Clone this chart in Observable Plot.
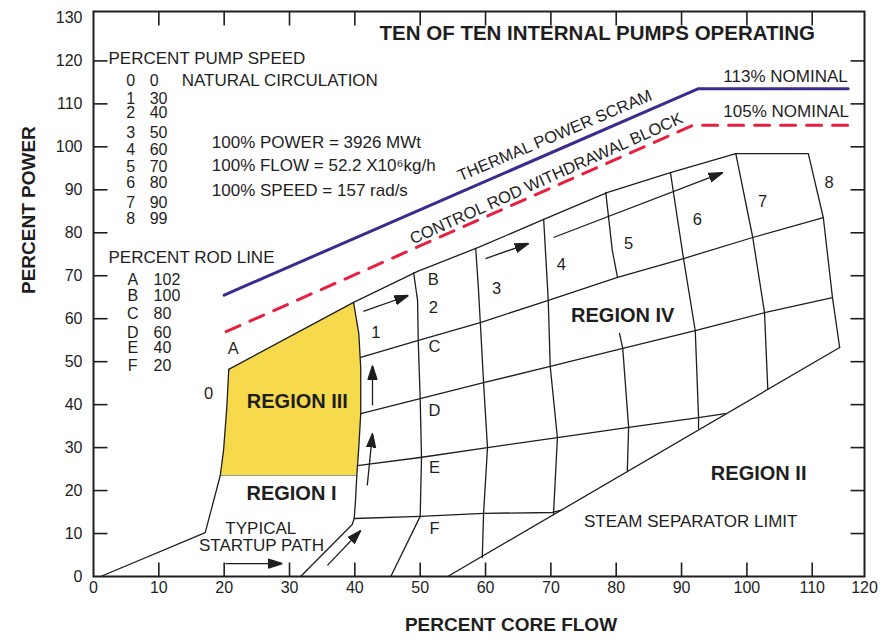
<!DOCTYPE html>
<html><head><meta charset="utf-8">
<script src="https://cdn.jsdelivr.net/npm/d3@7"></script>
<script src="https://cdn.jsdelivr.net/npm/@observablehq/plot@0.6"></script>
<style>html,body{margin:0;padding:0;background:#fff}svg{display:block}</style>
</head><body><div id="chart"></div>
<script>
// ---------- data (percent core flow, percent power) ----------
const xLabelTicks = [0,10,20,30,40,50,60,70,80,90,100,110];
const xMarkTicks = [10,20,30,40,50,60,70,80,90,100,110];
const yLabelTicks = [0,10,20,30,40,50,60,70,80,90,100,110,120,130];
const yMarkTicks = [10,20,30,40,50,60,70,80,90,100,110,120];

const scramLine = [[20,65.5],[92.5,113.5],[115.5,113.5]];
const rodBlockLine = [[20.3,57.0],[91.7,105],[115.5,105]];

const rodLineTop = [[20.7,48.2],[39.8,63.8],[49.6,71.0],[58.9,76.6],[68.9,83.1],[78.7,89.4],[88.3,94.0],[98.3,98.4],[109.4,98.4]];
const rodLineC = [[40.9,51.0],[49.6,54.9],[59.2,59.1],[69.5,64.2],[80.2,69.6],[90.3,74.0],[100.9,78.9],[111.7,83.5]];
const rodLineD = [[40.9,37.9],[50.0,41.4],[59.7,45.1],[69.9,48.9],[81.0,53.1],[92.1,57.2],[102.7,61.4],[113.1,64.9]];
const rodLineE = [[40.4,25.8],[50.0,27.7],[60.3,30.0],[71.0,32.3],[81.9,34.7],[92.6,37.0],[96.7,37.9]];
const rodLineF = [[39.9,13.5],[50.0,14.0],[59.7,14.7],[70.2,14.9],[71.5,15.4]];

const speed0 = [[1.1,0],[17.1,10.2],[19.4,23.5],[19.9,29.3],[20.4,39.3],[20.7,48.2]];
const speed1 = [[31.7,0],[39.6,12.1],[39.9,13.5],[40.1,17.7],[40.3,23.5],[40.6,30.0],[40.9,37.9],[40.9,48.6],[40.6,56.6],[39.8,63.8]];
const speed2 = [[45.5,0],[50.0,14.0],[50.2,27.7],[50.0,41.4],[49.7,54.9],[49.6,64.2],[49.0,70.7]];
const speed3 = [[59.5,4.4],[59.7,14.7],[60.3,30.0],[59.7,45.1],[59.2,59.1],[58.9,67.3],[58.5,76.3]];
const speed4 = [[70.4,14.4],[71.0,32.3],[69.9,48.9],[69.6,64.2],[68.9,83.1]];
const speed5Upper = [[78.4,89.4],[79.4,75.9],[80.2,69.6]];
const speed5Lower = [[80.5,56.6],[81.0,53.1],[81.9,34.7],[81.7,24.7]];
const speed6 = [[88.3,94.0],[90.3,74.0],[92.1,57.2],[92.6,37.0],[92.6,34.4]];
const speed7 = [[98.3,98.4],[100.9,78.9],[102.7,61.4],[103.2,43.6]];
const speed8 = [[109.4,98.4],[111.7,83.5],[113.1,64.9],[114.2,53.3]];
const separatorLimit = [[54.2,0],[114.2,53.3]];

const regionIII = [[20.7,48.2],[39.8,63.8],[40.6,56.6],[40.9,48.6],[40.9,37.9],[40.6,30.0],[40.3,23.5],[19.4,23.5],[19.9,29.3],[20.4,39.3]];
const regionIIIBottom = [[19.4,23.5],[40.3,23.5]];

// arrows: [x1, y1, x2, y2]
const arrows = [[41.3,61.7,48.2,65.4],[60.0,74.0,66.6,77.5],[70.4,78.9,96.3,94.0],[42.7,39.8,42.7,49.1],[41.9,21.2,42.7,33.3],[35.8,2.6,40.9,10.7],[20.2,3.0,28.9,3.0]];

// labels
const speedLabels = [["0",17.6,42.6],["1",43.2,56.8],["2",52.0,62.6],["3",61.7,67.0],["4",71.6,72.6],["5",81.9,77.5],["6",92.4,83.1],["7",102.4,87.3],["8",112.6,91.7]];
const rodLabels = [["A",21.4,53.1],["B",52.0,69.1],["C",52.2,53.5],["D",52.2,38.6],["E",52.2,25.4],["F",52.2,11.2]];
const pumpSpeedCodes = ["0","1","2","3","4","5","6","7","8"];
const pumpSpeedPct = ["0","30","40","50","60","70","80","90","99"];
const pumpRowY = [115.4,111.2,107.8,103.3,99.4,95.4,91.5,87.0,83.3];
const rodCodes = ["A","B","C","D","E","F"];
const rodPct = ["102","100","80","60","40","20"];
const rodRowY = [69.1,65.2,61.2,56.8,53.1,49.1];
const constants = [["100% POWER = 3926 MWt",101.0],["100% FLOW = 52.2 X10\u2076kg/h",95.6],["100% SPEED = 157 rad/s",89.8]];
const regionLabels = [["REGION III",31.2,40.7],["REGION I",30.3,19.3],["REGION IV",81.0,60.7],["REGION II",101.8,24.0]];
const plainLabels = [["STEAM SEPARATOR LIMIT",91.4,12.8],["TYPICAL",25.6,11.2],["STARTUP PATH",25.7,7.2]];

// ---------- helpers ----------
const pts = a => a.map(([x,y]) => ({x,y}));
const FONT = "'Liberation Sans', Arial, Helvetica, sans-serif";
const INK = "#1e1e1e";
const W = 888, H = 640, ML = 93, MR = 24, MT = 11, MB = 64;
const X_DOMAIN = [0, 118], Y_DOMAIN = [0, 131.5];
const TICK = 14; // inward tick length in pixels
const frameW = W - ML - MR, frameH = H - MT - MB;
const tdx = TICK * (X_DOMAIN[1] - X_DOMAIN[0]) / frameW;
const tdy = TICK * (Y_DOMAIN[1] - Y_DOMAIN[0]) / frameH;
// inward tick marks expressed in scale units (drawn by the library's x/y scales)
const tickSegments = [
  ...yMarkTicks.map(v => ({x1: X_DOMAIN[0], x2: X_DOMAIN[0] + tdx, y1: v, y2: v})),
  ...yMarkTicks.map(v => ({x1: X_DOMAIN[1] - tdx, x2: X_DOMAIN[1], y1: v, y2: v})),
  ...xMarkTicks.map(v => ({x1: v, x2: v, y1: Y_DOMAIN[1] - tdy, y2: Y_DOMAIN[1]})),
  ...xMarkTicks.map(v => ({x1: v, x2: v, y1: Y_DOMAIN[0], y2: Y_DOMAIN[0] + tdy}))
];

function filledHead(color, context) {
  const doc = (context && context.document) || document;
  const ns = "http://www.w3.org/2000/svg";
  const m = doc.createElementNS(ns, "marker");
  m.setAttribute("viewBox", "-14 -6 14 12");
  m.setAttribute("markerWidth", 14);
  m.setAttribute("markerHeight", 12);
  m.setAttribute("markerUnits", "userSpaceOnUse");
  m.setAttribute("refX", 0);
  m.setAttribute("refY", 0);
  m.setAttribute("orient", "auto");
  const p = doc.createElementNS(ns, "path");
  p.setAttribute("d", "M-14,-4.5L0,0L-14,4.5Z");
  p.setAttribute("fill", color);
  m.appendChild(p);
  return m;
}

function build(head) {
  const gridLine = (arr) => Plot.line(pts(arr), {x:"x", y:"y", stroke: INK, strokeWidth: 1.3});
  const arrowData = arrows.map(([x1,y1,x2,y2]) => ({x1,y1,x2,y2}));
  return Plot.plot({
    width: W, height: H,
    marginLeft: ML, marginRight: MR, marginTop: MT, marginBottom: MB,
    x: {domain: X_DOMAIN, axis: null},
    y: {domain: Y_DOMAIN, axis: null},
    style: {fontFamily: FONT, background: "#fff", color: INK},
    marks: [
      Plot.line(pts(regionIII), {x:"x", y:"y", fill: "#F7DA4C", stroke: "none"}),
      Plot.line(pts(regionIIIBottom), {x:"x", y:"y", stroke: "#999", strokeWidth: 1}),
      ...[rodLineTop, rodLineC, rodLineD, rodLineE, rodLineF,
          speed0, speed1, speed2, speed3, speed4, speed5Upper, speed5Lower,
          speed6, speed7, speed8, separatorLimit].map(gridLine),
      Plot.line(pts(scramLine), {x:"x", y:"y", stroke: "#3D2A8E", strokeWidth: 3}),
      Plot.line(pts(rodBlockLine), {x:"x", y:"y", stroke: "#E8203F", strokeWidth: 3, strokeDasharray: "15,11"}),
      Plot.link(arrowData, {x1:"x1", y1:"y1", x2:"x2", y2:"y2", stroke: INK, strokeWidth: 1.3, markerEnd: head}),
      // inward ticks on all four sides
      Plot.link(tickSegments, {x1:"x1", y1:"y1", x2:"x2", y2:"y2", stroke: INK, strokeWidth: 1.6}),
      // texts
      Plot.text(["TEN OF TEN INTERNAL PUMPS OPERATING"], {x: () => 77.1, y: () => 126.4, text: d => d, fontSize: 20.5, fontWeight: "bold", fill: INK}),
      Plot.text(["PERCENT PUMP SPEED"], {x: () => 2.3, y: () => 120.5, text: d => d, fontSize: 17, textAnchor: "start", fill: INK}),
      Plot.text(pumpSpeedCodes, {x: () => 5.7, y: (d,i) => pumpRowY[i], text: d => d, fontSize: 16, fill: INK}),
      Plot.text(pumpSpeedPct, {x: () => 8.6, y: (d,i) => pumpRowY[i], text: d => d, fontSize: 16, textAnchor: "start", fill: INK}),
      Plot.text(["NATURAL CIRCULATION"], {x: () => 13.5, y: () => pumpRowY[0], text: d => d, fontSize: 17, textAnchor: "start", fill: INK}),
      Plot.text(["PERCENT ROD LINE"], {x: () => 2.3, y: () => 74.2, text: d => d, fontSize: 17, textAnchor: "start", fill: INK}),
      Plot.text(rodCodes, {x: () => 6.0, y: (d,i) => rodRowY[i], text: d => d, fontSize: 16, fill: INK}),
      Plot.text(rodPct, {x: () => 9.2, y: (d,i) => rodRowY[i], text: d => d, fontSize: 16, textAnchor: "start", fill: INK}),
      Plot.text(constants, {x: () => 18.1, y: d => d[1], text: d => d[0], fontSize: 17, textAnchor: "start", fill: INK}),
      Plot.text(["113% NOMINAL"], {x: () => 96.4, y: () => 116.4, text: d => d, fontSize: 17, textAnchor: "start", fill: INK}),
      Plot.text(["105% NOMINAL"], {x: () => 96.4, y: () => 108.2, text: d => d, fontSize: 17, textAnchor: "start", fill: INK}),
      Plot.text(["THERMAL POWER SCRAM"], {x: () => 70.6, y: () => 102.6, text: d => d, rotate: -23, fontSize: 16.5, fill: INK}),
      Plot.text(["CONTROL ROD WITHDRAWAL BLOCK"], {x: () => 69.3, y: () => 92.6, text: d => d, rotate: -24.3, fontSize: 16.5, fill: INK}),
      Plot.text(speedLabels, {x: d => d[1], y: d => d[2], text: d => d[0], fontSize: 16.5, fill: INK}),
      Plot.text(rodLabels, {x: d => d[1], y: d => d[2], text: d => d[0], fontSize: 16.5, fill: INK}),
      Plot.text(regionLabels, {x: d => d[1], y: d => d[2], text: d => d[0], fontSize: 20, fontWeight: "bold", fill: INK}),
      Plot.text(plainLabels, {x: d => d[1], y: d => d[2], text: d => d[0], fontSize: 17, fill: INK}),
      // axis labels outside the frame
      Plot.axisY({anchor: "left", ticks: yLabelTicks, tickSize: 0, tickPadding: 11, fontSize: 16, label: null, color: INK}),
      Plot.axisX({anchor: "bottom", ticks: xLabelTicks, tickSize: 0, tickPadding: 5, fontSize: 16, label: null, color: INK}),
      Plot.text(["120"], {frameAnchor: "bottom-right", text: d => d, textAnchor: "middle", lineAnchor: "top", dy: 5, fontSize: 16, fill: INK}),
      Plot.text(["PERCENT POWER"], {frameAnchor: "left", text: d => d, rotate: -90, dx: -65, fontSize: 19, fontWeight: "bold", fill: INK}),
      Plot.text(["PERCENT CORE FLOW"], {frameAnchor: "bottom", text: d => d, dx: 32, dy: 54, fontSize: 19, fontWeight: "bold", fill: INK}),
      Plot.frame({stroke: INK, strokeWidth: 2})
    ]
  });
}

let chart;
try { chart = build(filledHead); } catch (e) { chart = build("arrow"); }
document.getElementById("chart").appendChild(chart);
</script>
</body></html>
